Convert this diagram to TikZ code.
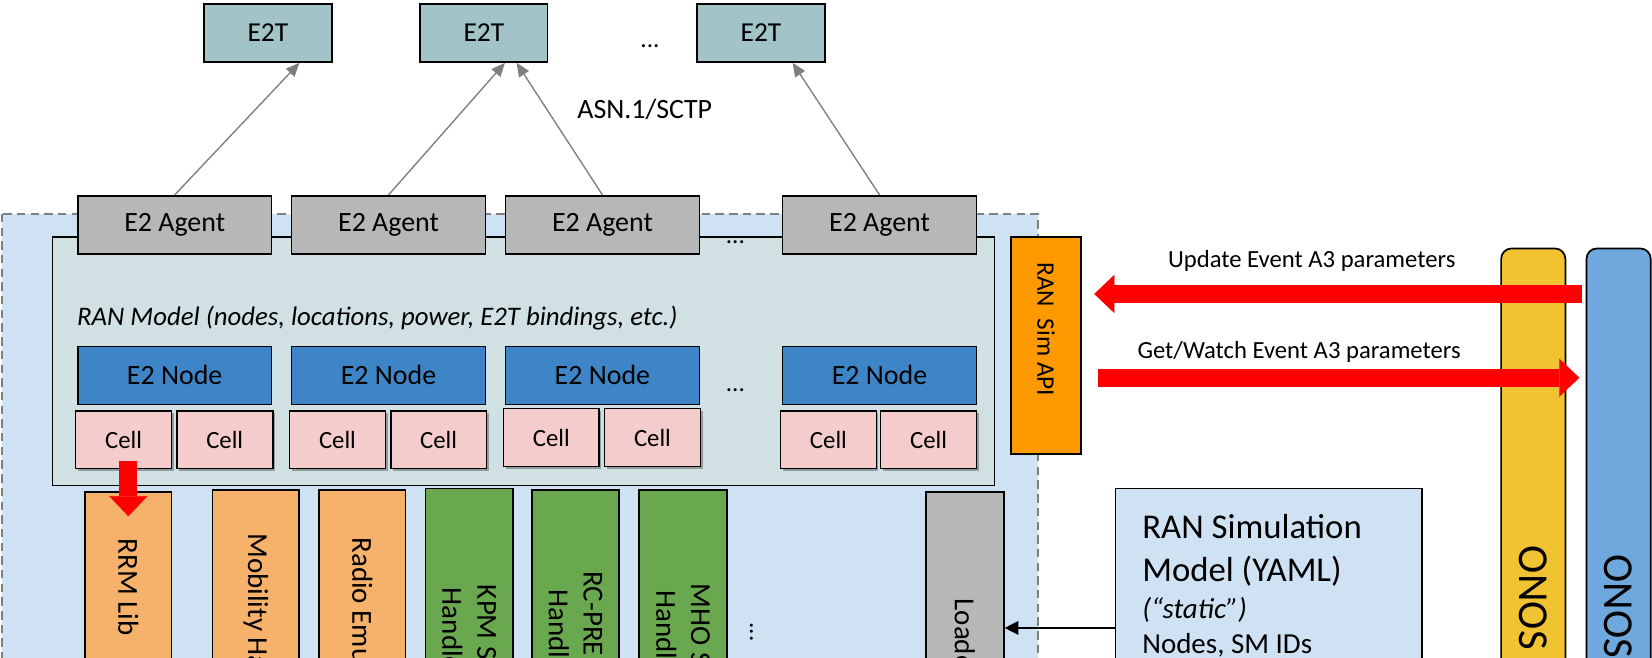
\documentclass[tikz,border=0pt]{standalone}
\usepackage{fontspec}
\setmainfont{Carlito}
\usetikzlibrary{arrows.meta,calc,shadows}
\definecolor{e2tc}{HTML}{A2C4C9}
\definecolor{agc}{HTML}{B7B7B7}
\definecolor{outerc}{HTML}{CFE2F3}
\definecolor{dashc}{HTML}{7F7F7F}
\definecolor{modelc}{HTML}{D0E0E3}
\definecolor{nodec}{HTML}{3D85C6}
\definecolor{cellc}{HTML}{F4CCCC}
\definecolor{orgc}{HTML}{F6B26B}
\definecolor{grnc}{HTML}{6AA84F}
\definecolor{apic}{HTML}{FF9900}
\definecolor{onosyc}{HTML}{F1C232}
\definecolor{onosbc}{HTML}{6FA8DC}
\definecolor{arrc}{HTML}{7F7F7F}
\newcommand\fsA{\fontsize{26.5pt}{30pt}\selectfont}
\newcommand\fsT{\fontsize{26pt}{30pt}\selectfont}
\newcommand\fsD{\fontsize{24pt}{28pt}\selectfont}
\newcommand\fsS{\fontsize{26.5pt}{30pt}\selectfont}
\newcommand\fsI{\fontsize{25.4pt}{29pt}\selectfont}
\newcommand\fsC{\fontsize{23.5pt}{27pt}\selectfont}
\newcommand\fsB{\fontsize{27.5pt}{33pt}\selectfont}
\newcommand\fsU{\fontsize{23.4pt}{27pt}\selectfont}
\newcommand\fsP{\fontsize{24pt}{28pt}\selectfont}
\newcommand\fsL{\fontsize{33pt}{38pt}\selectfont}
\newcommand\fsO{\fontsize{40.5pt}{46pt}\selectfont}
\begin{document}
\begin{tikzpicture}[x=1pt,y=-1pt,
  box/.style={draw=black, line width=1.6pt, anchor=north west, inner sep=0pt, align=center},
  e2t/.style={box, fill=e2tc, minimum width=121pt, minimum height=55pt, font=\fsT},
  agent/.style={box, fill=agc, minimum width=184pt, minimum height=55pt, font=\fsA},
  e2node/.style={box, fill=nodec, minimum width=184pt, minimum height=55pt, font=\fsA},
  cellbox/.style={box, fill=cellc, minimum width=91pt, minimum height=55pt, font=\fsC,
     drop shadow={shadow xshift=2pt, shadow yshift=-2.5pt, opacity=0.3, fill=black}},
  lowbox/.style={box, minimum height=260pt},
  vtext/.style={rotate=-90, anchor=west, inner sep=0pt, font=\fsB, align=center},
  dots/.style={anchor=base, inner sep=0pt, font=\fsD},
  garrow/.style={draw=arrc, line width=1.3pt, -{Triangle[width=11pt,length=13pt]}},
  bigred/.style={draw=red, line width=17pt, -{Triangle[width=36pt,length=19pt,line width=0.1pt]}},
  larrow/.style={draw=black, line width=1.3pt, -{Triangle[width=13pt,length=13pt]}}
]
\useasboundingbox (0,0) rectangle (1568,624);
\clip (0,0) rectangle (1568,624);

% top E2T boxes
\node[e2t] (t1) at (193,3) {E2T};
\node[e2t] (t2) at (398,3) {E2T};
\node[e2t] (t3) at (661,3) {E2T};
\node[dots] (d0) at (617,45) {...};
\node[font=\fsS] (asn) at (612,104) {ASN.1/SCTP};

% outer simulator region
\path[fill=outerc, draw=dashc, line width=1.5pt, dash pattern=on 8pt off 5pt] (2,203) rectangle (985,700);

% RAN model
\node[box, fill=modelc, minimum width=894pt, minimum height=236pt] (ranm) at (49,224) {};
\node[anchor=base west, font=\fsI\itshape, inner sep=0pt] (rmt) at (73,309) {RAN Model (nodes, locations, power, E2T bindings, etc.)};

% E2 agents
\node[agent] (a1) at (73,185) {E2 Agent};
\node[agent] (a2) at (276,185) {E2 Agent};
\node[agent] (a3) at (479,185) {E2 Agent};
\node[agent] (a4) at (742,185) {E2 Agent};
\node[dots] (d1) at (698,231) {...};

% connectors to E2T
\draw[garrow] (a1.north) -- ($(t1.south)+(30,0)$);
\draw[garrow] (a2.north) -- ($(t2.south)+(20,0)$);
\draw[garrow] (a3.north) -- ($(t2.south)+(31,0)$);
\draw[garrow] (a4.north) -- ($(t3.south)+(30,0)$);

% E2 nodes
\node[e2node] (n1) at (73,328) {E2 Node};
\node[e2node] (n2) at (276,328) {E2 Node};
\node[e2node] (n3) at (479,328) {E2 Node};
\node[e2node] (n4) at (742,328) {E2 Node};
\node[dots] (d2) at (698,372) {...};

% cells
\node[cellbox] (c11) at (71,389) {Cell};
\node[cellbox] (c12) at (167,389) {Cell};
\node[cellbox] (c21) at (274,389) {Cell};
\node[cellbox] (c22) at (370,389) {Cell};
\node[cellbox] (c31) at (477,387) {Cell};
\node[cellbox] (c32) at (573,387) {Cell};
\node[cellbox] (c41) at (740,389) {Cell};
\node[cellbox] (c42) at (835,389) {Cell};

% lower components
\node[lowbox, fill=orgc, minimum width=82pt] (rrm) at (80,466) {};
\node[vtext] (rrmt) at ($(rrm.north)+(0,45)$) {RRM Lib};
\node[lowbox, fill=orgc, minimum width=82pt] (mob) at (201,464) {};
\node[vtext] (mobt) at ($(mob.north)+(0,42)$) {Mobility Handler};
\node[lowbox, fill=orgc, minimum width=82pt] (rad) at (302,464) {};
\node[vtext] (radt) at ($(rad.north)+(0,46)$) {Radio Emulation};
\node[lowbox, fill=grnc, minimum width=83pt] (kpm) at (403,463) {};
\node[vtext] (kpmt) at ($(kpm.north)+(0,92)$) {KPM SM\\Handler};
\node[lowbox, fill=grnc, minimum width=83pt] (rcp) at (504,464) {};
\node[vtext] (rcpt) at ($(rcp.north)+(0,78)$) {RC-PRE SM\\Handler};
\node[lowbox, fill=grnc, minimum width=83pt] (mho) at (606,464) {};
\node[vtext] (mhot) at ($(mho.north)+(0,90)$) {MHO SM\\Handler};
\node[rotate=-90, anchor=base, inner sep=0pt, font=\fsD] (vd) at (712,600) {...};
\node[lowbox, fill=agc, minimum width=74pt] (ld) at (878,466) {};
\node[vtext] (ldt) at ($(ld.north)+(0,102)$) {Loader};

\draw[bigred] ($(c11.south -| rrm.north)+(0,-8)$) -- ($(rrm.north)+(0,24)$);

% RAN Sim API
\node[box, fill=apic, minimum width=66pt, minimum height=206pt] (api) at (959,224) {};
\node[vtext, font=\fsP] (apit) at ($(api.north)+(0,25)$) {RAN~ Sim API};

% ONOS columns
\node[box, rounded corners=10pt, fill=onosyc, minimum width=61pt, minimum height=450pt] (onosy) at (1424,235) {};
\node[vtext, font=\fsO] (onosyt) at ($(onosy.north)+(0,283)$) {ONOS};
\node[box, rounded corners=10pt, fill=onosbc, minimum width=61pt, minimum height=450pt] (onosb) at (1505,235) {};
\node[vtext, font=\fsO] (onosbt) at ($(onosb.north)+(0,291)$) {ONOS};

% API arrows
\node[font=\fsU] (upd) at (1245,248) {Update Event A3 parameters};
\node[font=\fsU] (get) at (1233,334) {Get/Watch Event A3 parameters};
\draw[bigred] ($(onosb.north west)+(-3,44)$) -- ($(api.north east)+(12,55)$);
\draw[bigred] ($(api.north east)+(16,134.5)$) -- ($(onosb.north west)+(-6,123.5)$);

% RAN simulation model
\node[box, fill=outerc, minimum width=291pt, minimum height=250pt] (sim) at (1058,463) {};
\node[anchor=base west, inner sep=0pt, font=\fsL] (s1) at ($(sim.north west)+(26,48)$) {RAN Simulation};
\node[anchor=base west, inner sep=0pt, font=\fsL] (s2) at ($(sim.north west)+(26,89)$) {Model (YAML)};
\node[anchor=base west, inner sep=0pt, font=\fsB\itshape] (s3) at ($(sim.north west)+(26,124)$) {(“static”)};
\node[anchor=base west, inner sep=0pt, font=\fsB] (s4) at ($(sim.north west)+(26,157)$) {Nodes, SM IDs};
\coordinate (la) at ($(sim.north west)+(0,133)$);
\draw[larrow] (la) -- (la -| ld.east);
\end{tikzpicture}
\end{document}
